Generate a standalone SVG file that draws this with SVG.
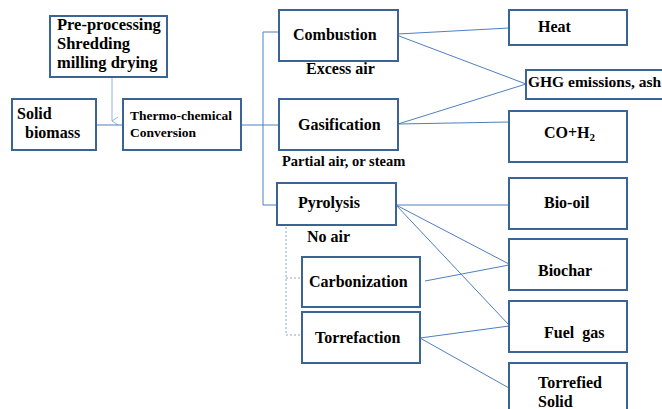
<svg xmlns="http://www.w3.org/2000/svg" width="662" height="409" viewBox="0 0 662 409">
<style>
.box{fill:#fff;stroke:#3a6396;stroke-width:2}
.ln{fill:none;stroke:#4f7fc0;stroke-width:1}
.arr{fill:none;stroke:#8eb4e3;stroke-width:1}
.dot{fill:none;stroke:#8aa6cc;stroke-width:1;stroke-dasharray:2 2}
text{font-family:"Liberation Serif","Times New Roman",serif;font-weight:bold;font-size:16px;fill:#000}
.sm{font-size:13.5px}
.lb{font-size:15.5px}
.pp{font-size:16.5px}
</style>
<defs>
<marker id="ah" markerWidth="10" markerHeight="10" refX="5" refY="8" orient="auto" markerUnits="userSpaceOnUse" viewBox="0 0 10 10">
<path d="M1 2 L5 8 L9 2" fill="none" stroke="#8eb4e3" stroke-width="1"/>
</marker>
</defs>
<rect width="662" height="409" fill="#fff"/>
<g id="connectors">
<line class="arr" x1="112" y1="77" x2="112" y2="121" marker-end="url(#ah)"/>
<line class="ln" x1="96" y1="125" x2="123" y2="125"/>
<line class="ln" x1="241" y1="125" x2="279" y2="125"/>
<polyline class="ln" points="279,32 263,32 263,205 277,205"/>
<line class="ln" x1="398" y1="34" x2="509" y2="28"/>
<line class="ln" x1="399" y1="36" x2="526" y2="84"/>
<line class="ln" x1="398" y1="124" x2="526" y2="84"/>
<line class="ln" x1="398" y1="124" x2="509" y2="122"/>
<line class="ln" x1="396" y1="205" x2="509" y2="205"/>
<line class="ln" x1="396" y1="205" x2="509" y2="264"/>
<line class="ln" x1="396" y1="205" x2="509" y2="325"/>
<line class="ln" x1="425" y1="281" x2="509" y2="265"/>
<line class="ln" x1="420" y1="338" x2="509" y2="326"/>
<line class="ln" x1="420" y1="338" x2="509" y2="388"/>
<polyline class="dot" points="286,227 286,335 302,335"/>
<line class="dot" x1="286" y1="278" x2="302" y2="278"/>
</g>
<g id="preprocessing">
<rect class="box" x="50" y="16" width="117" height="61"/>
<text class="pp" x="57" y="30">Pre-processing</text>
<text class="pp" x="57" y="49">Shredding</text>
<text class="pp" x="57" y="68">milling drying</text>
</g>
<g id="solid-biomass">
<rect class="box" x="12" y="99" width="84" height="51"/>
<text x="17" y="119">Solid</text>
<text x="25" y="138">biomass</text>
</g>
<g id="thermo">
<rect class="box" x="123" y="99" width="118" height="51"/>
<text class="sm" x="130" y="120">Thermo-chemical</text>
<text class="sm" x="130" y="137">Conversion</text>
</g>
<g id="combustion">
<rect class="box" x="279" y="10" width="119" height="51"/>
<text x="293" y="40">Combustion</text>
</g>
<text id="excess-air" x="306" y="74">Excess air</text>
<g id="gasification">
<rect class="box" x="279" y="99" width="119" height="51"/>
<text x="298" y="130">Gasification</text>
</g>
<text id="partial-air" x="282" y="166" style="font-size:14.5px">Partial air,  or steam</text>
<g id="pyrolysis">
<rect class="box" x="277" y="183" width="119" height="42"/>
<text x="298" y="208">Pyrolysis</text>
</g>
<text id="no-air" x="307" y="242">No air</text>
<g id="carbonization">
<rect class="box" x="302" y="257" width="118" height="50"/>
<text x="309" y="287">Carbonization</text>
</g>
<g id="torrefaction">
<rect class="box" x="302" y="312" width="118" height="51"/>
<text x="315" y="343">Torrefaction</text>
</g>
<g id="heat">
<rect class="box" x="509" y="10" width="118" height="35"/>
<text x="538" y="32">Heat</text>
</g>
<g id="ghg">
<rect class="box" x="526" y="70" width="140" height="29"/>
<text class="lb" x="528" y="87">GHG emissions, ash</text>
</g>
<g id="co-h2">
<rect class="box" x="509" y="111" width="118" height="51"/>
<text x="544" y="138">CO+H<tspan font-size="11" dy="3">2</tspan></text>
</g>
<g id="bio-oil">
<rect class="box" x="509" y="178" width="118" height="51"/>
<text x="544" y="208">Bio-oil</text>
</g>
<g id="biochar">
<rect class="box" x="509" y="239" width="118" height="51"/>
<text x="538" y="276">Biochar</text>
</g>
<g id="fuel-gas">
<rect class="box" x="509" y="301" width="118" height="51"/>
<text x="544" y="338" style="white-space:pre">Fuel  gas</text>
</g>
<g id="torrefied-solid">
<rect class="box" x="509" y="363" width="118" height="50"/>
<text x="538" y="388">Torrefied</text>
<text x="538" y="407">Solid</text>
</g>
</svg>
